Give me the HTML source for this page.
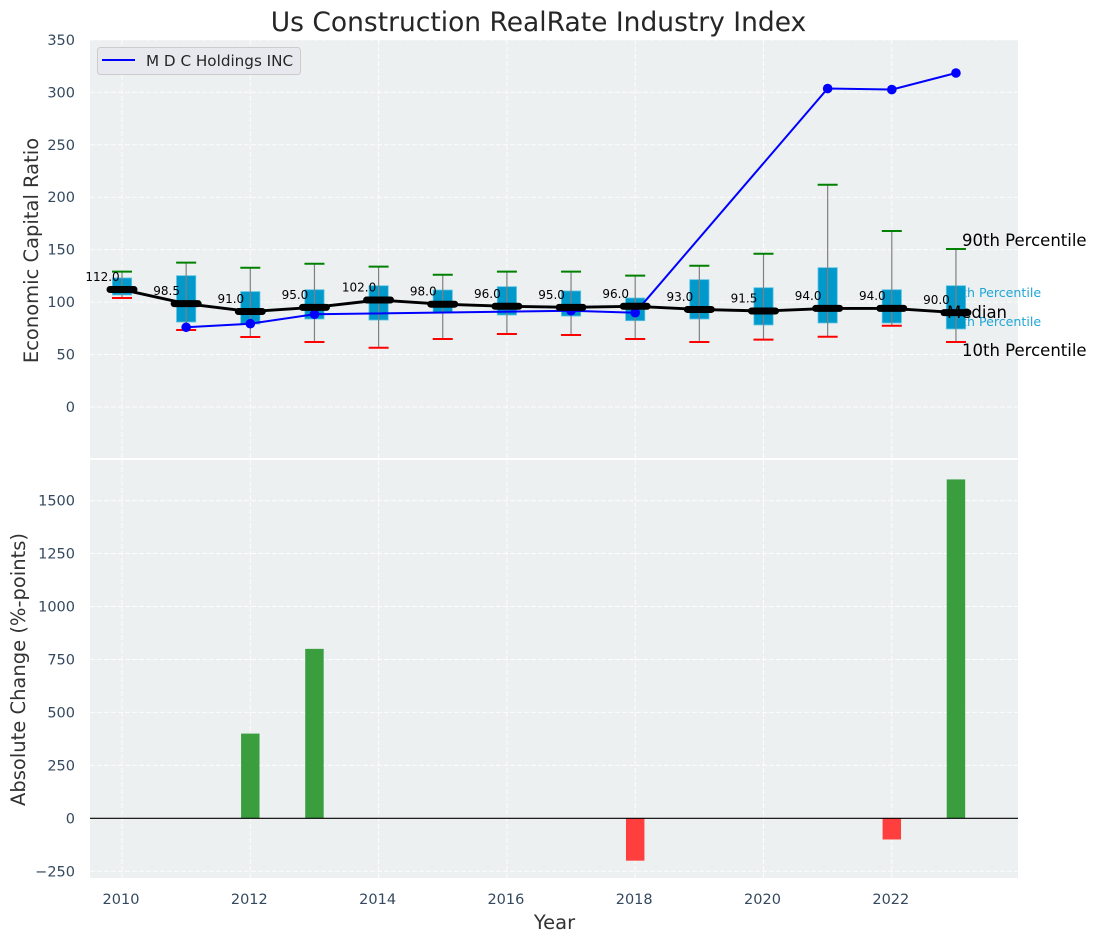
<!DOCTYPE html>
<html lang="en">
<head>
<meta charset="utf-8">
<title>Us Construction RealRate Industry Index</title>
<style>
html,body{margin:0;padding:0;background:#fff;width:1097px;height:942px;overflow:hidden}
svg{display:block;font-family:"DejaVu Sans","Liberation Sans",sans-serif}
</style>
</head>
<body>
<svg id="chart" width="1097" height="942" viewBox="0 0 1097 942" xmlns="http://www.w3.org/2000/svg">
  <text x="538.5" y="31" text-anchor="middle" font-size="26.5px" fill="#262626">Us Construction RealRate Industry Index</text>
  <rect x="90" y="40" width="928" height="418" fill="#ecf0f1"/>
  <rect x="90" y="460" width="928" height="418" fill="#ecf0f1"/>
  <g id="grid"></g>
  <g id="ticks"></g>
  <text transform="translate(38,250.5) rotate(-90)" text-anchor="middle" font-size="19.5px" fill="#333333">Economic Capital Ratio</text>
  <text transform="translate(25,669.5) rotate(-90)" text-anchor="middle" font-size="19.5px" fill="#333333">Absolute Change (%-points)</text>
  <text x="554.5" y="929" text-anchor="middle" font-size="19.5px" fill="#333333">Year</text>
  <text x="946" y="297" font-size="12.6px" fill="#1fa6d6">75th Percentile</text>
  <text x="946" y="326" font-size="12.6px" fill="#1fa6d6">25th Percentile</text>
  <g id="marks-top"></g>
  <g id="marks-bottom"></g>
  <text x="962" y="246" font-size="16.5px" fill="#000000">90th Percentile</text>
  <text x="947" y="318" font-size="16.5px" fill="#000000">Median</text>
  <text x="962" y="356" font-size="16.5px" fill="#000000">10th Percentile</text>
  <g>
    <rect x="97.5" y="47.5" width="203" height="27" rx="3" fill="#e8e9ee" stroke="#cccccc"/>
    <line x1="102" x2="135" y1="60" y2="60" stroke="#0000ff" stroke-width="2"/>
    <text x="146" y="66" font-size="15.2px" fill="#262626">M D C Holdings INC</text>
  </g>
</svg>
<script>
const years = [2010,2011,2012,2013,2014,2015,2016,2017,2018,2019,2020,2021,2022,2023];
const medians = [112,98.5,91,95,102,98,96,95,96,93,91.5,94,94,90];
const p90 = [129,137.6,132.8,136.6,133.8,126.1,129,129,125.2,134.7,146.1,211.9,167.8,150.6];
const p10 = [103.9,73.4,66.7,62,56.5,64.8,69.6,68.6,64.8,62,64.2,67,77.5,62];
const q3 = [123,125.2,110,111.8,115.6,111.5,114.7,110.6,103.9,121.4,113.7,132.8,111.8,115.6];
const q1 = [106.8,81,79.1,83.9,82.9,89.9,87.7,86.7,82.3,83.9,78.2,80.1,80.1,74.4];
const companyYears = [2011,2012,2013,2017,2018,2021,2022,2023];
const companyValues = [76,79.4,88.4,91.8,89.9,303.6,302.6,318.4];
const changeYears = [2012,2013,2018,2022,2023];
const changeValues = [400,800,-200,-100,1600];
const xTickLabels = [2010,2012,2014,2016,2018,2020,2022];
const yTopTickLabels = [0,50,100,150,200,250,300,350];
const yBottomTickLabels = [-250,0,250,500,750,1000,1250,1500];

const NS = 'http://www.w3.org/2000/svg';
const xPos = function (year) { return 122 + (year - 2010) * 64.15; };
const yTop = function (v) { return 407 - v * 1.049; };
const yBottom = function (v) { return 818.3 - v * 0.2118; };
const xUnit = 64.15;

function mk(parent, tag, attrs) {
  const el = document.createElementNS(NS, tag);
  for (const k in attrs) el.setAttribute(k, attrs[k]);
  parent.appendChild(el);
  return el;
}

const grid = document.getElementById('grid');
const ticks = document.getElementById('ticks');
const top_ = document.getElementById('marks-top');
const bottom_ = document.getElementById('marks-bottom');
const GRID = { stroke: '#ffffff', 'stroke-width': 1, 'stroke-dasharray': '5 2', 'stroke-opacity': 0.85 };

xTickLabels.forEach(function (t) {
  [[40, 458], [460, 878]].forEach(function (r) {
    const el = mk(grid, 'line', Object.assign({ x1: xPos(t), x2: xPos(t), y1: r[0], y2: r[1] }, GRID));
    
    
  });
  const label = mk(ticks, 'text', { x: xPos(t) - 1, y: 904, 'text-anchor': 'middle', 'font-size': '14.5px', fill: '#34495e' });
  label.textContent = t;
  
  
});
yTopTickLabels.forEach(function (t) {
  const el = mk(grid, 'line', Object.assign({ x1: 90, x2: 1018, y1: yTop(t), y2: yTop(t) }, GRID));
  
  
  const label = mk(ticks, 'text', { x: 75, y: yTop(t) + 5, 'text-anchor': 'end', 'font-size': '14.5px', fill: '#34495e' });
  label.textContent = t;
  
  
});
yBottomTickLabels.forEach(function (t) {
  const el = mk(grid, 'line', Object.assign({ x1: 90, x2: 1018, y1: yBottom(t), y2: yBottom(t) }, GRID));
  
  
  const label = mk(ticks, 'text', { x: 75, y: yBottom(t) + 5, 'text-anchor': 'end', 'font-size': '14.5px', fill: '#34495e' });
  label.textContent = String(t).replace('-', '\u2212');
  
  
});

years.forEach(function (yr, i) {
  const x = xPos(yr);
  const w = 0.3 * xUnit;
  const box = mk(top_, 'rect', { x: x - w / 2, y: yTop(q3[i]), width: w, height: yTop(q1[i]) - yTop(q3[i]), fill: '#0099cc', stroke: '#5fc2e2', 'stroke-width': 0.8 });
  
  
  const whisker = mk(top_, 'line', { x1: x, x2: x, y1: yTop(p90[i]), y2: yTop(p10[i]), stroke: '#808080', 'stroke-width': 1.2 });
  
  
  const capHigh = mk(top_, 'line', { x1: x - 10, x2: x + 10, y1: yTop(p90[i]), y2: yTop(p90[i]), stroke: '#008000', 'stroke-width': 2 });
  
  
  const capLow = mk(top_, 'line', { x1: x - 10, x2: x + 10, y1: yTop(p10[i]), y2: yTop(p10[i]), stroke: '#ff0000', 'stroke-width': 2 });
  
  
});

const companyLine = mk(top_, 'polyline', {
  points: companyYears.map(function (yr, i) { return xPos(yr) + ',' + yTop(companyValues[i]); }).join(' '),
  fill: 'none', stroke: '#0000ff', 'stroke-width': 2
});


companyYears.forEach(function (yr, i) {
  const dot = mk(top_, 'circle', { cx: xPos(yr), cy: yTop(companyValues[i]), r: 4.8, fill: '#0000ff' });
  
  
});

const medianLine = mk(top_, 'polyline', {
  points: years.map(function (yr, i) { return xPos(yr) + ',' + yTop(medians[i]); }).join(' '),
  fill: 'none', stroke: '#000000', 'stroke-width': 2.9
});


years.forEach(function (yr, i) {
  const x = xPos(yr);
  const y = yTop(medians[i]);
  const tick = mk(top_, 'line', { x1: x - 12, x2: x + 12, y1: y, y2: y, stroke: '#000000', 'stroke-width': 7, 'stroke-linecap': 'round' });
  
  
  const label = mk(top_, 'text', { x: x - 19.5, y: y - 8.5, 'text-anchor': 'middle', 'font-size': '12px', fill: '#000000' });
  label.textContent = medians[i].toFixed(1);
  
  
});

changeYears.forEach(function (yr, i) {
  const x = xPos(yr);
  const v = changeValues[i];
  const w = 0.3 * xUnit;
  const y0 = yBottom(0);
  const y1 = yBottom(v);
  const bar = mk(bottom_, 'rect', { x: x - w / 2 + 0.4, y: Math.min(y0, y1), width: w - 0.8, height: Math.abs(y1 - y0), fill: v >= 0 ? '#3a9e3f' : '#ff3e3e' });
  
  
});
const zero = mk(bottom_, 'line', { x1: 90, x2: 1018, y1: yBottom(0), y2: yBottom(0), stroke: '#000000', 'stroke-width': 1.2 });


</script>
</body>
</html>
